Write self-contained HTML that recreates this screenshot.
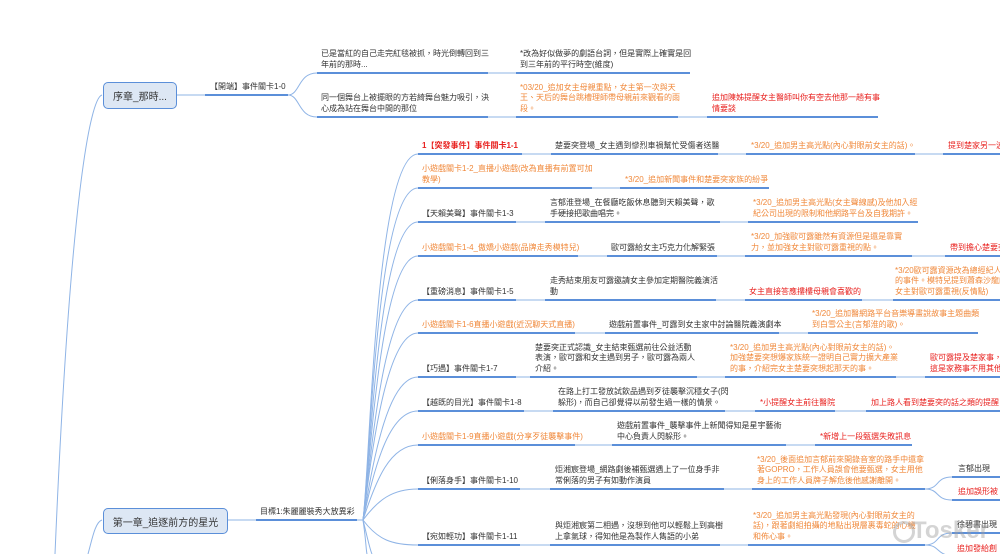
<!DOCTYPE html>
<html><head><meta charset="utf-8"><style>
*{margin:0;padding:0;box-sizing:border-box}
body{width:1000px;height:554px;overflow:hidden;background:#fff;position:relative;font-family:"Liberation Sans","Noto Sans CJK TC","Noto Sans CJK SC",sans-serif}
.t{position:absolute;font-size:8px;line-height:10.5px;color:#333;white-space:normal}
.o{color:#f0883a}.r{color:#e8201e}.b{font-weight:bold}
.box{position:absolute;border:1.5px solid #5b8fd9;background:#dde7f4;border-radius:5px;font-size:10px;color:#333;display:flex;align-items:center;justify-content:center;white-space:nowrap}
svg{position:absolute;left:0;top:0}
</style></head><body>
<svg width="1000" height="554">
<g fill="none" stroke="#8fb4e6" stroke-width="1">
<path d="M102,95 C90,98 70,200 55,554"/>
<path d="M102,520 C95,522 92,540 88,554"/>
<path d="M176,95 H205"/>
<path d="M288,95 C300,95 298,73 317,73"/>
<path d="M288,95 C300,95 298,117 317,117"/>
<path d="M488,73 H516 M488,117 H516 M678,117 H707"/>
<path d="M227,520 H256"/>
<path d="M357,520 H363"/>
<path d="M363,520 C370,470 375,154 418,154"/>
<path d="M363,520 C370,470 376,188 418,188"/>
<path d="M363,520 C370,470 378,222 418,222"/>
<path d="M363,520 C370,470 380,256 418,256"/>
<path d="M363,520 C370,470 382,300 418,300"/>
<path d="M363,520 C370,470 384,333 418,333"/>
<path d="M363,520 C372,470 386,377 418,377"/>
<path d="M363,520 C374,470 388,411 418,411"/>
<path d="M363,520 C376,480 390,445 418,445"/>
<path d="M363,520 C378,500 392,489 418,489"/>
<path d="M363,520 C378,540 392,545 418,545"/>
<path d="M363,520 C366,540 366,550 367,554"/>
<path d="M363,520 C368,540 370,550 372,554"/>
<path d="M522,154 H551 M718,154 H746 M915,154 H943"/>
<path d="M592,188 H620"/>
<path d="M516,222 H545 M720,222 H748"/>
<path d="M578,256 H607 M717,256 H745 M912,256 H945"/>
<path d="M516,300 H545 M716,300 H745 M862,300 H893"/>
<path d="M575,333 H605 M779,333 H808"/>
<path d="M516,377 H530 M697,377 H725 M896,377 H925"/>
<path d="M524,411 H553 M725,411 H755 M835,411 H866"/>
<path d="M575,445 H612 M786,445 H815"/>
<path d="M520,489 H550 M724,489 H752"/>
<path d="M925,489 C940,489 935,477 952,477 M925,489 C940,489 935,500 952,500"/>
<path d="M520,545 H550 M720,545 H748"/>
<path d="M925,545 C940,545 935,533 952,533 M925,545 C940,545 935,554 952,556"/>
</g>
<g stroke="#5b8fd9" stroke-width="2">
<path d="M205,95H288 M317,73H488 M317,117H488 M516,73H690 M516,117H678 M707,117H878"/>
<path d="M256,520H357"/>
<path d="M418,154H522 M551,154H718 M746,154H915 M943,154H1000"/>
<path d="M418,188H592 M620,188H769"/>
<path d="M418,222H516 M545,222H720 M748,222H918"/>
<path d="M418,256H578 M607,256H717 M745,256H912 M945,256H1000"/>
<path d="M418,300H516 M545,300H716 M745,300H862 M893,300H1000"/>
<path d="M418,333H575 M605,333H779 M808,333H978"/>
<path d="M418,377H516 M530,377H697 M725,377H896 M925,377H1000"/>
<path d="M418,411H524 M553,411H725 M755,411H835 M866,411H1000"/>
<path d="M418,445H575 M612,445H786 M815,445H912"/>
<path d="M418,489H520 M550,489H724 M752,489H925 M952,477H1000 M952,500H1000"/>
<path d="M418,545H520 M550,545H720 M748,545H925 M952,533H1000"/>
</g>
</svg>
<div class="box" style="left:103px;top:82px;width:74px;height:27px">序章_那時...</div>
<div class="box" style="left:103px;top:508px;width:125px;height:26px">第一章_追逐前方的星光</div>

<div class="t" style="left:210px;bottom:462px">【開端】事件關卡1-0</div>
<div class="t" style="left:321px;bottom:484px;width:170px">已是當紅的自己走完紅毯被抓，時光倒轉回到三年前的那時...</div>
<div class="t" style="left:321px;bottom:440px;width:170px">同一個舞台上被擺眼的方若綺舞台魅力吸引，決心成為站在舞台中間的那位</div>
<div class="t" style="left:520px;bottom:484px;width:172px">*改為好似做夢的劇語台詞，但是實際上確實是回到三年前的平行時空(維度)</div>
<div class="t o" style="left:520px;bottom:440px;width:162px">*03/20_追加女主母親重點，女主第一次與天王、天后的舞台跳槽理師帶母親前來觀看的雨段。</div>
<div class="t r" style="left:712px;bottom:440px;width:168px">追加陳姊提醒女主醫師叫你有空去他那一趟有事情要談</div>

<div class="t" style="left:260px;bottom:37px">目標1:朱麗麗裝秀大放異彩</div>

<div class="t r b" style="left:422px;bottom:403px">1【突發事件】事件關卡1-1</div>
<div class="t" style="left:555px;bottom:403px">楚要突登場_女主遇到慘烈車禍幫忙受傷者送醫</div>
<div class="t o" style="left:751px;bottom:403px">*3/20_追加男主高光點(內心對眼前女主的話)。</div>
<div class="t r" style="left:948px;bottom:403px;white-space:nowrap">提到楚家另一波</div>

<div class="t o" style="left:422px;bottom:369px;width:172px">小遊戲關卡1-2_直播小遊戲(改為直播有前置可加教學)</div>
<div class="t o" style="left:625px;bottom:369px">*3/20_追加新聞事件和楚要突家族的紛爭</div>

<div class="t" style="left:422px;bottom:335px">【天賴美聲】事件關卡1-3</div>
<div class="t" style="left:550px;bottom:335px;width:172px">言郁淮登場_在餐廳吃飯休息聽到天賴美聲，歌手硬接把歌曲唱完。</div>
<div class="t o" style="left:753px;bottom:335px;width:168px">*3/20_追加男主高光點(女主聲線感)及他加入經紀公司出現的限制和他網路平台及自我期許。</div>

<div class="t o" style="left:422px;bottom:301px">小遊戲關卡1-4_傲嬌小遊戲(品牌走秀模特兒)</div>
<div class="t" style="left:611px;bottom:301px">歐可露給女主巧克力化解緊張</div>
<div class="t o" style="left:751px;bottom:301px;width:164px">*3/20_加強歐可露雖然有資源但是還是靠實力，並加強女主對歐可露重視的點。</div>
<div class="t r" style="left:950px;bottom:301px;white-space:nowrap">帶到擔心楚要突</div>

<div class="t" style="left:422px;bottom:257px">【重磅消息】事件關卡1-5</div>
<div class="t" style="left:550px;bottom:257px;width:170px">走秀結束朋友可露邀請女主參加定期醫院義演活動</div>
<div class="t r" style="left:749px;bottom:257px">女主直接答應摟樓母親會喜歡的</div>
<div class="t o" style="left:895px;bottom:257px;width:110px;white-space:nowrap">*3/20歐可露資源改為總經紀人<br>的事件。模特兒提到蕭森沙龍的<br>女主對歐可露重視(反情點)</div>

<div class="t o" style="left:422px;bottom:224px">小遊戲關卡1-6直播小遊戲(近況聊天式直播)</div>
<div class="t" style="left:609px;bottom:224px">遊戲前置事件_可露到女主家中討論醫院義演劇本</div>
<div class="t o" style="left:812px;bottom:224px;width:168px">*3/20_追加醫網路平台音樂導畫說故事主題曲類到白雪公主(言郁淮的歌)。</div>

<div class="t" style="left:422px;bottom:180px">【巧遇】事件關卡1-7</div>
<div class="t" style="left:535px;bottom:180px;width:164px">楚要突正式認識_女主結束甄選前往公益活動表演，歐可露和女主遇到男子，歐可露為兩人介紹。</div>
<div class="t o" style="left:730px;bottom:180px;width:170px">*3/20_追加男主高光點(內心對眼前女主的話)。加強楚要突想爆家族統一證明自己實力擴大產業的事，介紹完女主楚要突想起那天的事。</div>
<div class="t r" style="left:930px;bottom:180px;width:80px;white-space:nowrap">歐可露提及楚家事，楚<br>這是家務事不用其他</div>

<div class="t" style="left:422px;bottom:146px">【越既的目光】事件關卡1-8</div>
<div class="t" style="left:558px;bottom:146px;width:172px">在路上打工發放試飲品遇到歹徒襲擊沉穩女子(閃躲形)，而自己卻覺得以前發生過一樣的情景。</div>
<div class="t r" style="left:760px;bottom:146px">*小提醒女主前往醫院</div>
<div class="t r" style="left:871px;bottom:146px;white-space:nowrap">加上路人看到楚要突的話之類的提醒。</div>

<div class="t o" style="left:422px;bottom:112px">小遊戲關卡1-9直播小遊戲(分享歹徒襲擊事件)</div>
<div class="t" style="left:617px;bottom:112px;width:170px">遊戲前置事件_襲擊事件上新聞得知是星宇藝術中心負責人閃躲形。</div>
<div class="t r" style="left:820px;bottom:112px">*新增上一段甄選失敗訊息</div>

<div class="t" style="left:422px;bottom:68px">【俐落身手】事件關卡1-10</div>
<div class="t" style="left:555px;bottom:68px;width:170px">炬湘宸登場_網路劇後補甄選遇上了一位身手非常俐落的男子有如動作演員</div>
<div class="t o" style="left:757px;bottom:68px;width:168px">*3/20_後面追加言郁前來開錄音室的路手中還拿著GOPRO，工作人員誤會他要甄選，女主用他身上的工作人員牌子解危後他感謝離開。</div>
<div class="t" style="left:958px;bottom:80px;white-space:nowrap">言郁出現</div>
<div class="t r" style="left:958px;bottom:57px;white-space:nowrap">追加誤形被</div>

<div class="t" style="left:422px;bottom:12px">【宛如輕功】事件關卡1-11</div>
<div class="t" style="left:555px;bottom:12px;width:168px">與炬湘宸第二相遇，沒想到他可以輕鬆上到高樹上拿氣球，得知他是為製作人雋語的小弟</div>
<div class="t o" style="left:753px;bottom:12px;width:168px">*3/20_追加男主高光點發現(內心對眼前女主的話)，跟著劇組拍攝的地點出現層裹毒蛇的心機和佈心事。</div>
<div class="t" style="left:957px;bottom:24px;white-space:nowrap">徐碧書出現</div>
<div class="t r" style="left:957px;bottom:0px;white-space:nowrap">追加發給創</div>

<div style="position:absolute;left:893px;top:521px;width:22px;height:22px;border:3px solid rgba(160,160,160,.45);border-radius:50%"></div>
<div style="position:absolute;left:912px;top:517px;font-size:24px;font-weight:bold;color:rgba(160,160,160,.45);font-family:'Liberation Sans',sans-serif">Tosker</div>
</body></html>
